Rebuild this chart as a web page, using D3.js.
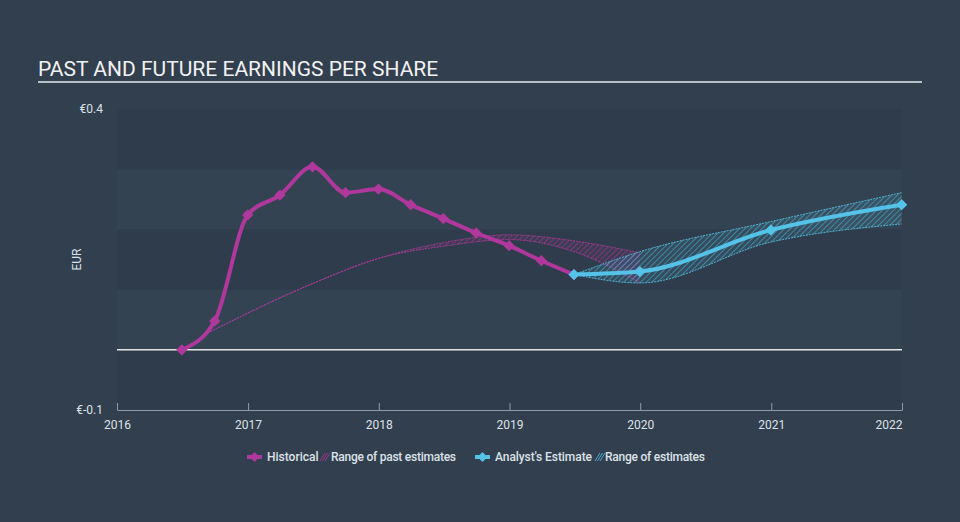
<!DOCTYPE html>
<html>
<head>
<meta charset="utf-8">
<script src="https://cdn.jsdelivr.net/npm/d3@7"></script>
<style>
  html, body { margin: 0; padding: 0; background: #323f4e; }
  svg { display: block; font-family: Roboto, "Open Sans", sans-serif; }
</style>
</head>
<body>
<svg id="chart" width="960" height="522"></svg>
<script>
// ---------- DATA ----------
const title = "PAST AND FUTURE EARNINGS PER SHARE";
const yAxisLabel = "EUR";
const yTicks = [0.4, -0.1];
const yTickLabels = ["€0.4", "€-0.1"];
const xTicks = ["2016", "2017", "2018", "2019", "2020", "2021", "2022"];

const histDates = ["2016-06-30", "2016-09-30", "2016-12-31", "2017-03-31", "2017-06-30", "2017-09-30",
                   "2017-12-31", "2018-03-31", "2018-06-30", "2018-09-30", "2018-12-31", "2019-03-31", "2019-06-30"];
const histValues = [0.000, 0.048, 0.224, 0.257, 0.304, 0.261, 0.267, 0.241, 0.218, 0.194, 0.173, 0.148, 0.125];

const pastRangeDates = ["2016-09-10", "2017-06-30", "2018-01-01", "2018-06-30", "2019-01-01", "2019-06-30", "2019-12-31"];
const pastRangeHigh  = [0.028, 0.110, 0.152, 0.178, 0.191, 0.181, 0.161];
const pastRangeLow   = [0.028, 0.110, 0.152, 0.172, 0.183, 0.163, 0.111];

const estDates  = ["2019-06-30", "2019-12-31", "2020-12-31", "2021-12-31"];
const estValues = [0.125, 0.130, 0.199, 0.241];
const estHigh   = [0.125, 0.163, 0.213, 0.261];
const estLow    = [0.125, 0.111, 0.179, 0.209];

const legendItems = ["Historical", "Range of past estimates", "Analyst's Estimate", "Range of estimates"];

// ---------- STYLE ----------
const W = 960, H = 522;
const margin = { left: 117, right: 58, top: 109, bottom: 112 };
const colHist = "#b0389c";
const colEst = "#55c3e8";
const textCol = "#dde2e8";

const svg = d3.select("#chart");
const parse = d3.timeParse("%Y-%m-%d");

const x = d3.scaleTime()
  .domain([new Date(2016, 0, 1), new Date(2022, 0, 1)])
  .range([margin.left, W - margin.right]);
const y = d3.scaleLinear()
  .domain([-0.1, 0.4])
  .range([H - margin.bottom, margin.top]);

// background
svg.append("rect").attr("width", W).attr("height", H).attr("fill", "#323f4e");

// patterns
const defs = svg.append("defs");
function hatch(id, color) {
  const p = defs.append("pattern").attr("id", id).attr("patternUnits", "userSpaceOnUse")
    .attr("width", 4).attr("height", 4).attr("patternTransform", "rotate(45)");
  p.append("rect").attr("width", 4).attr("height", 4).attr("fill", color).attr("opacity", 0.12);
  p.append("line").attr("x1", 0).attr("y1", 0).attr("x2", 0).attr("y2", 4)
    .attr("stroke", color).attr("stroke-width", 1.3).attr("opacity", 0.75);
}
hatch("hatchHist", colHist);
hatch("hatchEst", colEst);

// plot bands
const bandEdges = d3.range(-0.1, 0.4001, 0.1).map(v => +v.toFixed(2));
for (let i = 0; i < bandEdges.length - 1; i++) {
  svg.append("rect")
    .attr("x", x.range()[0]).attr("width", x.range()[1] - x.range()[0])
    .attr("y", y(bandEdges[i + 1])).attr("height", y(bandEdges[i]) - y(bandEdges[i + 1]))
    .attr("fill", i % 2 === 0 ? "#2f3c4b" : "#344352");
}

// title
svg.append("text").attr("x", 38).attr("y", 76).text(title)
  .attr("fill", "#f2f2f2").attr("font-size", 21).attr("font-weight", 400);
svg.append("line").attr("x1", 38).attr("x2", 922).attr("y1", 82).attr("y2", 82)
  .attr("stroke", "#b8bec6").attr("stroke-width", 2);

// y axis labels
yTicks.forEach((v, i) => {
  svg.append("text").attr("x", 103).attr("y", y(v)).attr("dy", "0.35em")
    .attr("text-anchor", "end").attr("fill", textCol).attr("font-size", 12).text(yTickLabels[i]);
});
svg.append("text").attr("transform", `translate(81,${(y(0.4) + y(-0.1)) / 2}) rotate(-90)`)
  .attr("text-anchor", "middle").attr("fill", textCol).attr("font-size", 12).text(yAxisLabel);

// x axis
const xAxis = d3.axisBottom(x)
  .tickValues(xTicks.map(t => new Date(+t, 0, 1)))
  .tickFormat(d3.timeFormat("%Y"))
  .tickSizeOuter(0).tickSizeInner(-7).tickPadding(3);
const gx = svg.append("g").attr("transform", `translate(0,${y(-0.1)})`).call(xAxis);
gx.select(".domain").attr("stroke", "#8f9cab").attr("stroke-width", 1);
gx.selectAll(".tick line").attr("stroke", "#8f9cab").attr("y2", -7);
gx.selectAll(".tick text").attr("fill", textCol).attr("font-size", 12)
  .attr("font-family", "Roboto, sans-serif").attr("dy", "1.1em").attr("y", 6);
gx.selectAll(".tick text").filter((d, i) => i === xTicks.length - 1).attr("text-anchor", "end");

// zero line
svg.append("line").attr("x1", x.range()[0]).attr("x2", x.range()[1])
  .attr("y1", y(0)).attr("y2", y(0)).attr("stroke", "#e6e6e6").attr("stroke-width", 1.5);

// range areas
function rangeArea(dates, hi, lo, color, pat) {
  const data = dates.map((d, i) => ({ d: parse(d), hi: hi[i], lo: lo[i] }));
  const area = d3.area().x(p => x(p.d)).y0(p => y(p.lo)).y1(p => y(p.hi)).curve(d3.curveMonotoneX);
  svg.append("path").datum(data).attr("d", area).attr("fill", `url(#${pat})`);
  ["hi", "lo"].forEach(k => {
    svg.append("path").datum(data)
      .attr("d", d3.line().x(p => x(p.d)).y(p => y(p[k])).curve(d3.curveMonotoneX))
      .attr("fill", "none").attr("stroke", color).attr("stroke-width", 1)
      .attr("stroke-dasharray", "2,1").attr("opacity", 0.85);
  });
}
rangeArea(pastRangeDates, pastRangeHigh, pastRangeLow, colHist, "hatchHist");
rangeArea(estDates, estHigh, estLow, colEst, "hatchEst");

// lines
const diamond = d3.symbol().type(d3.symbolSquare).size(64);
function series(dates, vals, color) {
  const data = dates.map((d, i) => ({ d: parse(d), v: vals[i] }));
  svg.append("path").datum(data)
    .attr("d", d3.line().x(p => x(p.d)).y(p => y(p.v)).curve(d3.curveMonotoneX))
    .attr("fill", "none").attr("stroke", color).attr("stroke-width", 4)
    .attr("stroke-linejoin", "round").attr("stroke-linecap", "round");
  svg.selectAll(null).data(data).enter().append("path")
    .attr("d", diamond).attr("transform", p => `translate(${x(p.d)},${y(p.v)}) rotate(45)`)
    .attr("fill", color);
}
series(histDates, histValues, colHist);
series(estDates, estValues, colEst);

// legend
const lg = svg.append("g").attr("font-size", 12).attr("fill", textCol).attr("font-weight", 500);
const ly = 457;
function legendLine(x0, color) {
  lg.append("line").attr("x1", x0).attr("x2", x0 + 15).attr("y1", ly).attr("y2", ly)
    .attr("stroke", color).attr("stroke-width", 4);
  lg.append("path").attr("d", d3.symbol().type(d3.symbolSquare).size(50))
    .attr("transform", `translate(${x0 + 7.5},${ly}) rotate(45)`).attr("fill", color);
}
function legendHatch(x0, color) {
  for (let k = 0; k < 3; k++) {
    lg.append("line").attr("x1", x0 + k * 2.5).attr("y1", ly + 4).attr("x2", x0 + k * 2.5 + 5).attr("y2", ly - 4)
      .attr("stroke", color).attr("stroke-width", 1).attr("opacity", 0.8);
  }
}
legendLine(247, colHist);
lg.append("text").attr("x", 267).attr("y", ly).attr("dy", "0.35em").text(legendItems[0]);
legendHatch(320, colHist);
lg.append("text").attr("x", 331).attr("y", ly).attr("dy", "0.35em").attr("textLength", 125).text(legendItems[1]);
legendLine(475, colEst);
lg.append("text").attr("x", 495).attr("y", ly).attr("dy", "0.35em").attr("textLength", 97).text(legendItems[2]);
legendHatch(595, colEst);
lg.append("text").attr("x", 605).attr("y", ly).attr("dy", "0.35em").attr("textLength", 100).text(legendItems[3]);
</script>
</body>
</html>
